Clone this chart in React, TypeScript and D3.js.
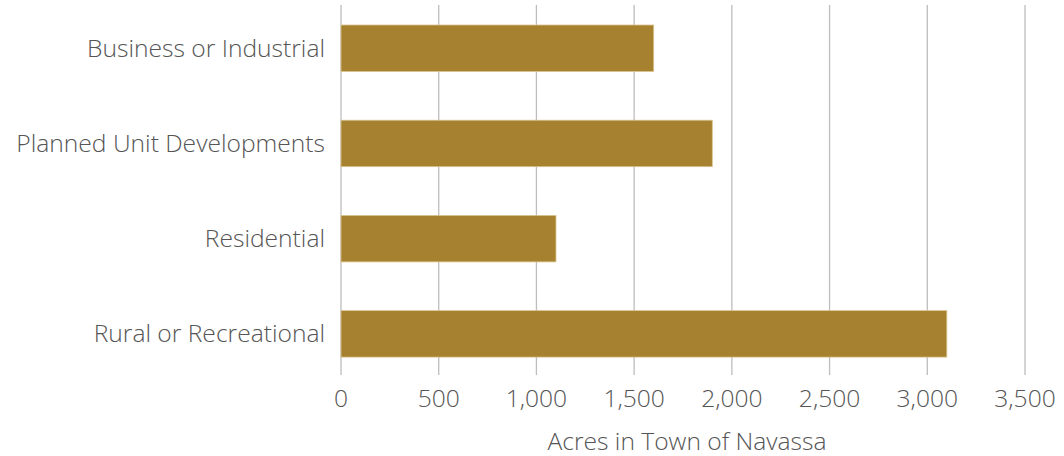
import React from "react";
import * as d3 from "d3";

const categories = ["Business or Industrial", "Planned Unit Developments", "Residential", "Rural or Recreational"];
const acres = [1600, 1900, 1100, 3100];
const xTicks = [0, 500, 1000, 1500, 2000, 2500, 3000, 3500];
const xTitle = "Acres in Town of Navassa";

export default function App() {
  const W = 1064, H = 456;
  const x = d3.scaleLinear().domain([0, 3500]).range([341, 1025]);
  const y = d3.scaleBand<string>().domain(categories).range([1.2, 380.9]).paddingInner(0.512).paddingOuter(0.25);
  const fmt = d3.format(",");
  const font = "'Open Sans', sans-serif";
  return (
    <svg width={W} height={H} style={{ position: "absolute", left: 0, top: 0 }} fontFamily={font} fontWeight={300}>
      <rect width={W} height={H} fill="#fff" />
      {xTicks.map((t) => (
        <line key={t} x1={x(t)} x2={x(t)} y1={5} y2={375} stroke="#bdbdbd" strokeWidth={1.3} />
      ))}
      {categories.map((c, i) => (
        <rect key={c} x={x(0)} y={y(c)!} width={x(acres[i]) - x(0)} height={y.bandwidth()} fill="#a6812f" stroke="#d9c48f" strokeWidth={0.8} />
      ))}
      {categories.map((c) => (
        <text key={c} x={325} y={y(c)! + y.bandwidth() / 2} dy="0.35em" textAnchor="end" fontSize={24.6} fill="#555">{c}</text>
      ))}
      {xTicks.map((t) => (
        <text key={t} x={x(t)} y={398} dy="0.35em" textAnchor="middle" fontSize={24.6} fill="#555">{fmt(t)}</text>
      ))}
      <text x={687} y={441} dy="0.35em" textAnchor="middle" fontSize={24.6} fill="#555">{xTitle}</text>
    </svg>
  );
}
